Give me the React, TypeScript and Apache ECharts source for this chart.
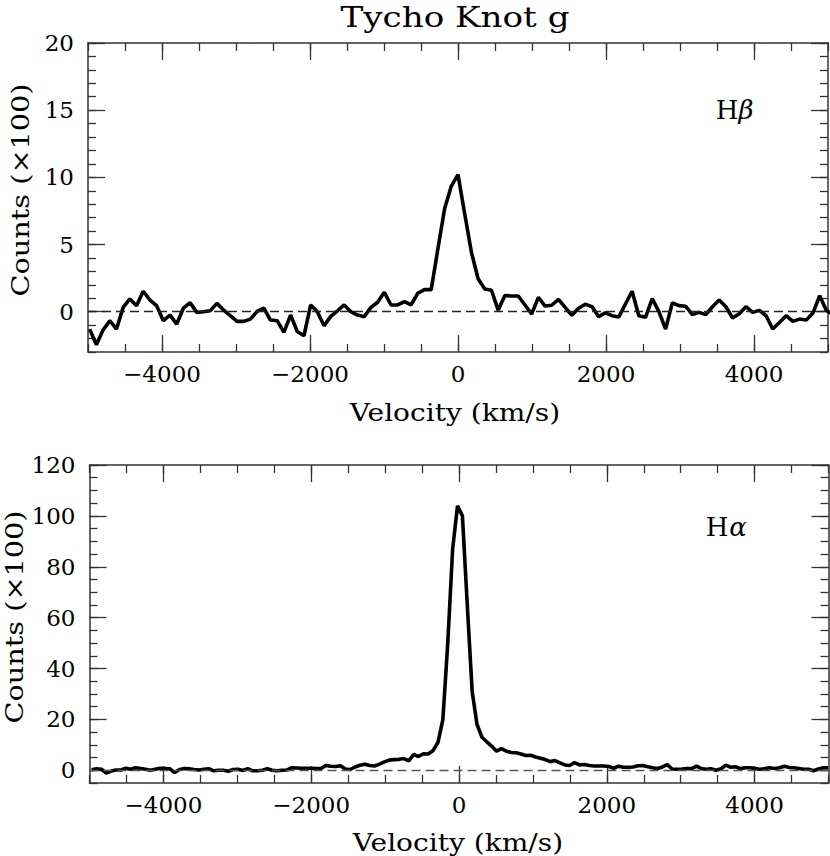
import React, { useEffect, useRef } from "react";
import * as echarts from "echarts";

// H-beta spectrum: velocity grid start/step (km/s) and counts (x100)
const HB_V0 = -4977.5;
const HB_STEP = 90.5;
const hbetaCounts = [
  -1.3, -2.46, -1.37, -0.67, -1.3, 0.32, 0.95, 0.45, 1.52, 0.87,
  0.45, -0.67, -0.25, -0.92, 0.27, 0.67, -0.05, 0.0, 0.07, 0.62,
  0.12, -0.3, -0.72, -0.72, -0.55, 0.02, 0.27, -0.62, -0.67, -1.54,
  -0.25, -1.47, -1.79, 0.5, 0.0, -1.04, -0.35, 0.07, 0.5, 0.0,
  -0.25, -0.37, 0.32, 0.7, 1.44, 0.5, 0.5, 0.75, 0.5, 1.39,
  1.64, 1.64, 4.68, 7.66, 9.35, 10.2, 7.29, 4.43, 2.45, 1.69,
  1.6, 0.12, 1.2, 1.17, 1.17, 0.5, -0.17, 1.07, 0.42, 0.48,
  0.92, 0.32, -0.27, 0.26, 0.55, 0.38, -0.37, -0.08, -0.3, -0.4,
  0.57, 1.52, -0.3, -0.42, 0.97, 0.0, -1.29, 0.65, 0.45, 0.4,
  -0.22, -0.05, -0.22, 0.37, 0.87, 0.37, -0.47, -0.15, 0.37, -0.05,
  0.1, -0.3, -1.29, -0.8, -0.3, -0.72, -0.55, -0.62, -0.1, 1.19,
  0.1, -0.2,
];

// H-alpha spectrum
const HA_V0 = -4970;
const HA_STEP = 66;
const halphaCounts = [
  0.2, 0.6, 0.4, -1.1, -0.3, 0.1, 0.1, 0.8, 0.4, 1.0,
  0.7, 0.4, 0.0, 0.4, 0.8, 0.7, 0.6, -0.9, 0.3, 0.7,
  0.6, 0.3, 0.1, 0.4, 0.6, -0.2, 0.0, 0.0, -0.4, 0.3,
  0.4, -0.1, 0.6, -0.2, -0.2, 0.0, 0.6, 0.0, -0.2, 0.0,
  0.1, 1.0, 0.9, 0.8, 0.8, 0.8, 0.7, 0.7, 1.9, 1.6,
  1.5, 1.8, 0.5, 0.3, 1.3, 2.0, 2.4, 1.9, 1.7, 2.4,
  3.3, 4.0, 4.2, 4.3, 4.6, 3.7, 6.2, 5.4, 6.5, 6.4,
  7.8, 11, 20, 50, 87, 104, 100, 65, 31, 18,
  13, 11.2, 9.5, 7.5, 8.5, 7.5, 7.0, 6.9, 6.4, 5.8,
  5.9, 5.2, 4.7, 4.2, 3.4, 3.8, 2.9, 2.1, 1.9, 3.0,
  2.1, 2.3, 1.9, 1.7, 1.7, 1.7, 1.5, 0.8, 1.6, 1.2,
  1.2, 1.3, 1.8, 1.9, 1.4, 1.0, 0.7, 1.3, 2.2, 0.5,
  0.4, 0.5, 0.65, 0.65, 1.6, 0.65, 0.4, 0.6, 0.0, 0.6,
  2.0, 1.2, 1.4, 0.65, 1.0, 1.0, 0.7, 0.4, 0.65, 1.0,
  0.7, 1.0, 1.6, 1.1, 1.0, 0.7, 0.4, 0.4, -0.2, 0.5,
  1.0, 1.0,
];

const xMajorTicks = [-4000, -2000, 0, 2000, 4000];
const hbYMajor = [0, 5, 10, 15, 20];
const haYMajor = [0, 20, 40, 60, 80, 100, 120];

const FONT = "DejaVu Serif";
const FRAME = "#333";
const TICK_FONT = 23;

const fmt = (v: number) => (v < 0 ? "\u2212" + Math.abs(v) : String(v));

const tickStyle = { color: FRAME, width: 1.3 };

function xAxes(gridIndex: number, majors: number[]) {
  const base = { type: "value", gridIndex, min: -5000, max: 5000, splitLine: { show: false } };
  return [
    {
      ...base,
      position: "bottom",
      axisLine: { show: true, onZero: false, lineStyle: { color: FRAME, width: 1.5 } },
      axisTick: { show: true, inside: true, length: 17, customValues: majors, lineStyle: tickStyle },
      axisLabel: { show: true, customValues: majors, formatter: fmt, margin: 10, fontFamily: FONT, fontSize: TICK_FONT, color: "#000" },
    },
    {
      ...base,
      position: "bottom",
      interval: 500,
      axisLine: { show: false, onZero: false },
      axisTick: { show: true, inside: true, length: 8, lineStyle: tickStyle },
      axisLabel: { show: false },
    },
    {
      ...base,
      position: "top",
      axisLine: { show: true, onZero: false, lineStyle: { color: FRAME, width: 1.5 } },
      axisTick: { show: true, inside: true, length: 17, customValues: majors, lineStyle: tickStyle },
      axisLabel: { show: false },
    },
    {
      ...base,
      position: "top",
      interval: 500,
      axisLine: { show: false, onZero: false },
      axisTick: { show: true, inside: true, length: 8, lineStyle: tickStyle },
      axisLabel: { show: false },
    },
  ];
}

function yAxes(gridIndex: number, min: number, max: number, majors: number[], minor: number) {
  const base = { type: "value", gridIndex, min, max, splitLine: { show: false } };
  return [
    {
      ...base,
      position: "left",
      axisLine: { show: true, onZero: false, lineStyle: { color: FRAME, width: 1.5 } },
      axisTick: { show: true, inside: true, length: 17, customValues: majors, lineStyle: tickStyle },
      axisLabel: { show: true, customValues: majors, formatter: fmt, margin: 14, fontFamily: FONT, fontSize: TICK_FONT, color: "#000" },
    },
    {
      ...base,
      position: "left",
      interval: minor,
      axisLine: { show: false, onZero: false },
      axisTick: { show: true, inside: true, length: 8, lineStyle: tickStyle },
      axisLabel: { show: false },
    },
    {
      ...base,
      position: "right",
      axisLine: { show: true, onZero: false, lineStyle: { color: FRAME, width: 1.5 } },
      axisTick: { show: true, inside: true, length: 17, customValues: majors, lineStyle: tickStyle },
      axisLabel: { show: false },
    },
    {
      ...base,
      position: "right",
      interval: minor,
      axisLine: { show: false, onZero: false },
      axisTick: { show: true, inside: true, length: 8, lineStyle: tickStyle },
      axisLabel: { show: false },
    },
  ];
}

const label = (text: string, x: number, y: number, size: number, sx: number, rot = 0, italic = false) => ({
  type: "text",
  x,
  y,
  rotation: rot,
  scaleX: sx,
  style: {
    text,
    fontFamily: FONT,
    fontSize: size,
    fontStyle: italic ? "italic" : "normal",
    fill: "#000",
    textAlign: "center",
    textVerticalAlign: "middle",
  },
});

export default function App() {
  const ref = useRef<HTMLDivElement>(null);
  useEffect(() => {
    if (!ref.current) return;
    const chart = echarts.init(ref.current, null, { renderer: "svg" });
    const hbData = hbetaCounts.map((c, i) => [HB_V0 + i * HB_STEP, c]);
    const haData = halphaCounts.map((c, i) => [HA_V0 + i * HA_STEP, c]);
    const zeroLine = (color: string) => ({
      silent: true,
      symbol: ["none", "none"],
      label: { show: false },
      lineStyle: { color, type: [9, 5], width: 1.4 },
      data: [{ yAxis: 0 }],
    });
    chart.setOption({
      animation: false,
      backgroundColor: "#fff",
      grid: [
        { left: 88, top: 43, width: 740, height: 309, outerBoundsMode: "none", containLabel: false },
        { left: 89.5, top: 465, width: 739, height: 318, outerBoundsMode: "none", containLabel: false },
      ],
      xAxis: [...xAxes(0, xMajorTicks), ...xAxes(1, xMajorTicks)],
      yAxis: [...yAxes(0, -3, 20, hbYMajor, 1), ...yAxes(1, -5, 120, haYMajor, 5)],
      series: [
        {
          type: "line",
          xAxisIndex: 0,
          yAxisIndex: 0,
          data: hbData,
          showSymbol: false,
          clip: true,
          lineStyle: { color: "#000", width: 3.6 },
          markLine: zeroLine("#222"),
        },
        {
          type: "line",
          xAxisIndex: 4,
          yAxisIndex: 4,
          data: haData,
          showSymbol: false,
          clip: true,
          lineStyle: { color: "#000", width: 3.6 },
          markLine: zeroLine("#555"),
        },
      ],
      graphic: [
        label("Tycho Knot g", 455, 17, 28, 1.22),
        label("Velocity (km/s)", 455, 413, 24, 1.17),
        label("Velocity (km/s)", 458, 843, 24, 1.17),
        label("Counts (\u00d7100)", 20, 190, 25, 1.15, Math.PI / 2),
        label("Counts (\u00d7100)", 14, 617, 25, 1.15, Math.PI / 2),
        label("H", 727, 110, 26, 1),
        label("\u03b2", 746, 110, 26, 1, 0, true),
        label("H", 717, 527, 26, 1),
        label("\u03b1", 738, 527, 26, 1, 0, true),
      ],
    });
    return () => chart.dispose();
  }, []);
  return <div ref={ref} style={{ position: "absolute", left: 0, top: 0, width: 830, height: 856 }} />;
}
